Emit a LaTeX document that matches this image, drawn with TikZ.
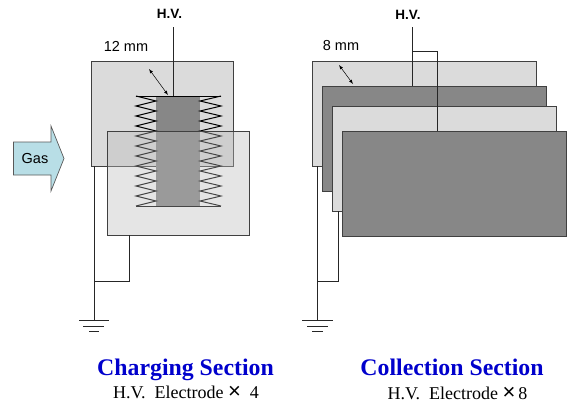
\documentclass[tikz,border=0pt]{standalone}
\usepackage{fontspec}
\setmainfont{Liberation Serif}
\newfontfamily\arialfont{Liberation Sans}
\usetikzlibrary{calc,arrows}
\definecolor{gasblue}{RGB}{184,222,230}
\definecolor{titleblue}{RGB}{0,0,204}
\newcommand{\crossmark}{{\arialfont\fontsize{22}{20}\selectfont\symbol{"00D7}}}
\tikzset{
    plate/.style={draw=black!75,line width=0.9pt,anchor=north west,inner sep=0pt,outer sep=0pt},
    lightplate/.style={plate,fill=black!14},
    darkplate/.style={plate,fill=black!47},
    wire/.style={draw=black!85,line width=0.8pt},
    fin/.style={draw=black,line width=1pt},
    gap/.style={<->,>=latex,line width=0.5pt},
    label/.style={font=\arialfont\fontsize{14.5}{16}\selectfont,inner sep=0pt},
    hvlabel/.style={font=\arialfont\bfseries\fontsize{13.5}{16}\selectfont,inner sep=0pt},
    title/.style={font=\bfseries\fontsize{23.8}{26}\selectfont,text=titleblue,inner sep=0pt,anchor=base},
    count/.style={font=\fontsize{18}{20}\selectfont,inner sep=0pt,anchor=base}
}
\begin{document}
\begin{tikzpicture}[x=1pt,y=-1pt]
        \useasboundingbox (0,0) rectangle (567,407);

        % charging section
        \node[lightplate,minimum width=142pt,minimum height=105pt] (back) at (91,61) {};
        \fill[black!47] (156,96) rectangle (200,206);
        \draw[fin] (136,96) -- (221,96) (136,206) -- (221,206);
        \draw[fin] (136,96) \foreach \i in {0,...,10} {
            -- ++(20,5) -- ++(-20,5) };
        \draw[fin] (221,96) \foreach \i in {0,...,10} {
            -- ++(-21,5) -- ++(21,5) };
        \node[plate,fill=black!27,fill opacity=0.38,minimum width=142pt,minimum height=104pt] (front) at (107,131) {};

        \coordinate (hvl) at (173,27);
        \coordinate (hvtop) at (173,96);
        \draw[wire] (hvl) -- (hvtop);
        \coordinate (gndl) at (94,320);
        \coordinate (tapl) at (94,281);
        \coordinate (backfoot) at (94,166);
        \coordinate (frontfoot) at (129,235);
        \draw[wire] (backfoot) -- (gndl);
        \draw[wire] (tapl) -| (frontfoot);
        \draw[wire] (79,320) -- (109,320) (83,326) -- (104,326) (89,331) -- (99,331);
        \draw[gap] (149,69) -- (168,95);

        \draw[draw=black!65,line width=0.7pt,fill=gasblue] (13.5,142) -- (51,142) -- (51,126)
            -- (64,158.5) -- (51,191) -- (51,175) -- (13.5,175) -- cycle;
        \node[label] (gastext) at (35,158.5) {Gas};
        \node[hvlabel] (hvltext) at (169.5,14) {H.V.};
        \node[label] (gapl) at (126,46) {12 mm};

        % collection section
        \node[lightplate,minimum width=224pt,minimum height=105pt] (a) at (312,61.5) {};
        \node[darkplate,minimum width=224pt,minimum height=105pt] (b) at (322,86) {};
        \coordinate (hvr) at (412,27);
        \coordinate (hvturn) at (412,51.5);
        \coordinate (hvdown) at (437.5,51.5);
        \coordinate (hvb) at (412,86);
        \coordinate (hvd) at (437.5,131);
        \draw[wire] (hvr) -- (hvb);
        \node[lightplate,minimum width=224pt,minimum height=105pt] (c) at (332,106) {};
        \draw[wire] (hvturn) -- (hvdown) -- (hvd);
        \node[darkplate,minimum width=224.5pt,minimum height=105pt] (d) at (342,131) {};
        \coordinate (gndr) at (317,320);
        \coordinate (tapr) at (317,281);
        \coordinate (afoot) at (317,166);
        \coordinate (cfoot) at (338,211);
        \draw[wire] (afoot) -- (gndr);
        \draw[wire] (tapr) -| (cfoot);
        \draw[wire] (302,320) -- (333,320) (307,326) -- (328,326) (312,331) -- (323,331);
        \draw[gap] (339,65) -- (353,84);
        \node[hvlabel] (hvrtext) at (408,15) {H.V.};
        \node[label] (gapr) at (341,46) {8 mm};

        % captions
        \node[title] (chargetitle) at (185.5,375) {Charging Section};
        \node[title] (collecttitle) at (452,375) {Collection Section};
        \node[count] (chargecount) at (186,398) {H.V.\ \ Electrode \crossmark\ \ 4};
        \node[count] (collectcount) at (457.5,399) {H.V.\ \ Electrode \crossmark\,8};
\end{tikzpicture}
\end{document}
